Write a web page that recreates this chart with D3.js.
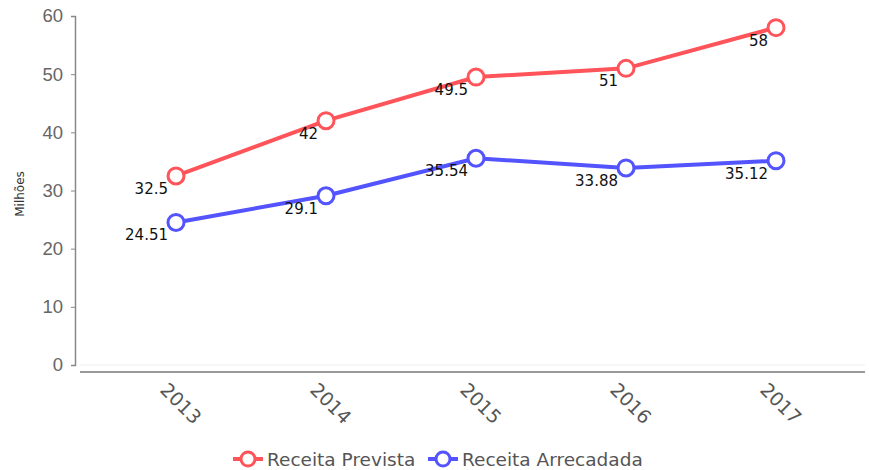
<!DOCTYPE html>
<html>
<head>
<meta charset="utf-8">
<script src="https://cdn.jsdelivr.net/npm/d3@7"></script>
<style>
  body { margin: 0; background: #fff; }
  svg { display: block; font-family: "DejaVu Sans", sans-serif; }
</style>
</head>
<body>
<svg id="chart" width="869" height="470"></svg>
<script>
var years = ["2013", "2014", "2015", "2016", "2017"];
var prevista = [32.5, 42, 49.5, 51, 58];
var arrecadada = [24.51, 29.1, 35.54, 33.88, 35.12];
var yTicks = [0, 10, 20, 30, 40, 50, 60];
var seriesNames = ["Receita Prevista", "Receita Arrecadada"];
var colors = ["#ff5459", "#5353ff"];

var svg = d3.select("#chart");

var x = d3.scalePoint().domain(years).range([101, 851]).padding(0.5);
var y = d3.scaleLinear().domain([0, 60]).range([365, 16]);

// faint baseline + x axis line
svg.append("line").attr("x1", 80).attr("x2", 865).attr("y1", y(0)).attr("y2", y(0))
    .attr("stroke", "#eeeeee").attr("stroke-width", 1);
svg.append("line").attr("x1", 80).attr("x2", 865).attr("y1", 372).attr("y2", 372)
    .attr("stroke", "#777").attr("stroke-width", 1.5);

// y axis
var yAxis = svg.append("g").attr("transform", "translate(75,0)")
    .call(d3.axisLeft(y).tickValues(yTicks).tickSize(4).tickPadding(8));
yAxis.select(".domain").attr("stroke", "#888").attr("stroke-width", 1.5);
yAxis.selectAll(".tick line").attr("stroke", "#888");
yAxis.selectAll(".tick text").attr("fill", "#666").attr("font-size", 18.5);

svg.append("text")
    .attr("transform", "translate(24,194) rotate(-90)")
    .attr("text-anchor", "middle")
    .attr("font-size", 12)
    .attr("fill", "#333")
    .text("Milhões");

// x labels, rotated
svg.selectAll(".xlab").data(years).enter().append("text")
    .attr("class", "xlab")
    .attr("transform", function(d) { return "translate(" + (x(d) - 17) + ",391) rotate(45)"; })
    .attr("font-size", 19)
    .attr("fill", "#555")
    .text(function(d) { return d; });

var series = [prevista, arrecadada];
var line = d3.line()
    .x(function(d, i) { return x(years[i]); })
    .y(function(d) { return y(d); });

series.forEach(function(vals, s) {
    var g = svg.append("g");
    g.append("path").datum(vals)
        .attr("d", line)
        .attr("fill", "none")
        .attr("stroke", colors[s])
        .attr("stroke-width", 4);
    g.selectAll("circle").data(vals).enter().append("circle")
        .attr("cx", function(d, i) { return x(years[i]); })
        .attr("cy", function(d) { return y(d); })
        .attr("r", 8)
        .attr("fill", "#fff")
        .attr("stroke", colors[s])
        .attr("stroke-width", 3);
    g.selectAll("text").data(vals).enter().append("text")
        .attr("x", function(d, i) { return x(years[i]) - 8; })
        .attr("y", function(d) { return y(d) + 18; })
        .attr("text-anchor", "end")
        .attr("font-size", 15)
        .attr("fill", "#111")
        .text(function(d) { return d; });
});

// legend
var legX = [233, 428];
seriesNames.forEach(function(name, s) {
    var lg = svg.append("g").attr("transform", "translate(" + legX[s] + ",459)");
    lg.append("line").attr("x1", 0).attr("x2", 30).attr("y1", 0).attr("y2", 0)
        .attr("stroke", colors[s]).attr("stroke-width", 4);
    lg.append("circle").attr("cx", 15).attr("cy", 0).attr("r", 7)
        .attr("fill", "#fff").attr("stroke", colors[s]).attr("stroke-width", 3);
    lg.append("text").attr("x", 34).attr("y", 7)
        .attr("font-size", 18.5).attr("fill", "#555").text(name);
});
</script>
</body>
</html>
